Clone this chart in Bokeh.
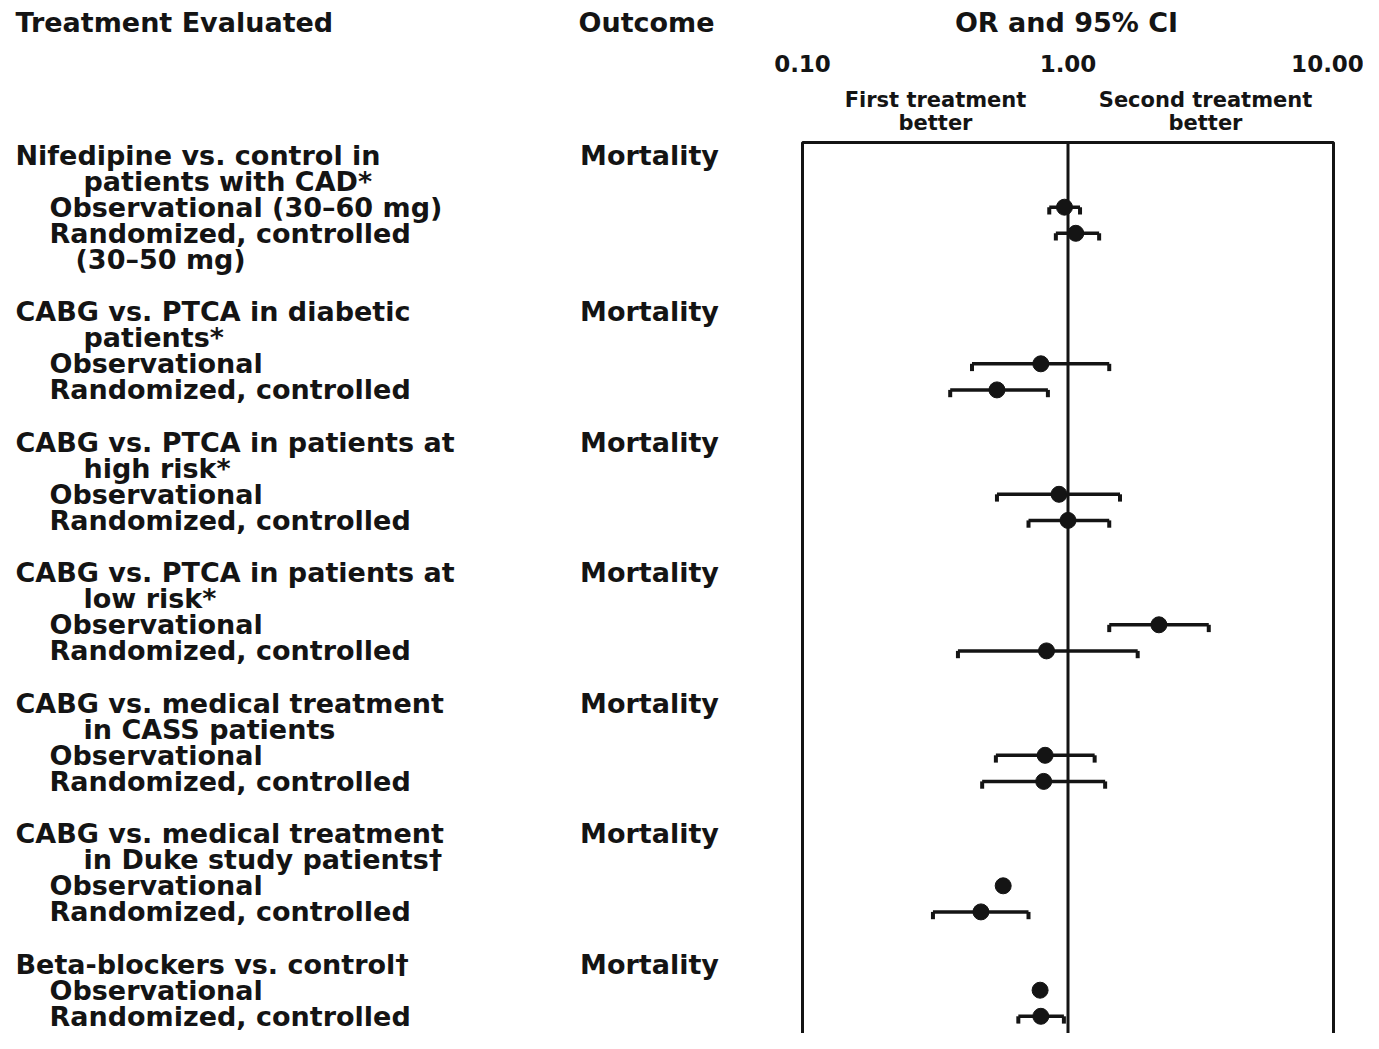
import math
from bokeh.plotting import figure
from bokeh.models import Range1d, Label, ColumnDataSource
from bokeh.embed import file_html
from bokeh.resources import INLINE

# ---------------- data ----------------
title_lines = [
    ["Nifedipine vs. control in", "patients with CAD*"],
    ["CABG vs. PTCA in diabetic", "patients*"],
    ["CABG vs. PTCA in patients at", "high risk*"],
    ["CABG vs. PTCA in patients at", "low risk*"],
    ["CABG vs. medical treatment", "in CASS patients"],
    ["CABG vs. medical treatment", "in Duke study patients\u2020"],
    ["Beta-blockers vs. control\u2020"],
]
outcomes = ["Mortality"] * 7
obs_labels = ["Observational (30\u201360 mg)"] + ["Observational"] * 6
rct_labels = ["Randomized, controlled"] * 7
rct_extra = ["(30\u201350 mg)", None, None, None, None, None, None]

obs_or = [0.97, 0.79, 0.925, 2.20, 0.82, 0.57, 0.785]
obs_lo = [0.85, 0.435, 0.54, 1.43, 0.535, None, None]
obs_hi = [1.11, 1.43, 1.57, 3.39, 1.26, None, None]
rct_or = [1.07, 0.54, 1.00, 0.83, 0.81, 0.47, 0.79]
rct_lo = [0.90, 0.36, 0.71, 0.385, 0.475, 0.31, 0.65]
rct_hi = [1.31, 0.84, 1.43, 1.83, 1.38, 0.71, 0.965]

x_ticks = [0.1, 1.0, 10.0]
x_min, x_max = 0.1, 10.0

# ---------------- layout constants ----------------
W, H = 1363, 1033
BOX_LEFT_PX, PX_PER_DECADE = 802, 265.5
ROW0_PX, ROW_PX = 154.5, 26.1
FONT = "DejaVu Sans"
INK = "#141414"
BODY = "27px"

lx = math.log10(x_min) - BOX_LEFT_PX / PX_PER_DECADE
rx = math.log10(x_min) + (W - BOX_LEFT_PX) / PX_PER_DECADE

def row_of(px):
    return (px - ROW0_PX) / ROW_PX

top_row, bot_row = row_of(0), row_of(H)
box_top, box_bot = row_of(142), row_of(H + 20)

# ---------------- rows ----------------
row = 0
text_items = []
pt_y, pt_x, bar_y, bar_lo, bar_hi = [], [], [], [], []
for g, lines in enumerate(title_lines):
    for i, t in enumerate(lines):
        text_items.append((15 if i == 0 else 83, row, t, "left"))
        if i == 0:
            text_items.append((649, row, outcomes[g], "center"))
        row += 1
    text_items.append((49, row, obs_labels[g], "left"))
    pt_x.append(obs_or[g]); pt_y.append(row)
    if obs_lo[g] is not None:
        bar_y.append(row); bar_lo.append(obs_lo[g]); bar_hi.append(obs_hi[g])
    row += 1
    text_items.append((49, row, rct_labels[g], "left"))
    pt_x.append(rct_or[g]); pt_y.append(row)
    if rct_lo[g] is not None:
        bar_y.append(row); bar_lo.append(rct_lo[g]); bar_hi.append(rct_hi[g])
    row += 1
    if rct_extra[g]:
        text_items.append((75, row, rct_extra[g], "left"))
        row += 1
    row += 1

# ---------------- figure ----------------
p = figure(width=W, height=H, x_axis_type="log", x_axis_location=None,
           y_axis_location=None, output_backend="svg", toolbar_location=None,
           x_range=Range1d(10 ** lx, 10 ** rx), y_range=Range1d(bot_row, top_row),
           min_border=0, background_fill_color="white", border_fill_color="white")
p.grid.visible = False
p.outline_line_color = None

# box and reference line at OR = 1
p.quad(left=[x_min], right=[x_max], top=[box_top], bottom=[box_bot],
       fill_color=None, line_color=INK, line_width=3)
p.segment(x0=[1.0], y0=[box_top], x1=[1.0], y1=[box_bot], line_color=INK, line_width=3)

# CI bars, caps and points
src_bar = ColumnDataSource(dict(y=bar_y, lo=bar_lo, hi=bar_hi,
                                yc=[v + 0.28 for v in bar_y]))
p.segment(x0="lo", y0="y", x1="hi", y1="y", source=src_bar, line_color=INK, line_width=3.5)
p.segment(x0="lo", y0="y", x1="lo", y1="yc", source=src_bar, line_color=INK, line_width=4)
p.segment(x0="hi", y0="y", x1="hi", y1="yc", source=src_bar, line_color=INK, line_width=4)
p.scatter(x=pt_x, y=pt_y, size=16, color=INK)

# tick labels on the OR scale
for t in x_ticks:
    p.add_layout(Label(x=t, y=row_of(63), x_units="data", y_units="data", text="%.2f" % t,
                       x_offset=(-6 if t == x_ticks[-1] else 0),
                       text_align="center", text_baseline="middle", text_font=FONT,
                       text_font_style="bold", text_font_size="23px", text_color=INK))

for (xs, r, t, align) in text_items:
    p.add_layout(Label(x=xs, y=r, x_units="screen", y_units="data", text=t,
                       text_align=align, text_baseline="middle", text_font=FONT,
                       text_font_style="bold", text_font_size=BODY, text_color=INK))

for xs, t, align in [(15, "Treatment Evaluated", "left"), (646, "Outcome", "center"),
                     (1066, "OR and 95% CI", "center")]:
    p.add_layout(Label(x=xs, y=row_of(22), x_units="screen", y_units="data", text=t,
                       text_align=align, text_baseline="middle", text_font=FONT,
                       text_font_style="bold", text_font_size=BODY, text_color=INK))
for xs, lines in [(935, ["First treatment", "better"]), (1205, ["Second treatment", "better"])]:
    for ypx, t in zip([99, 122], lines):
        p.add_layout(Label(x=xs, y=row_of(ypx), x_units="screen", y_units="data", text=t,
                           text_align="center", text_baseline="middle", text_font=FONT,
                           text_font_style="bold", text_font_size="21px", text_color=INK))

open("out.html", "w").write(file_html(p, INLINE))
